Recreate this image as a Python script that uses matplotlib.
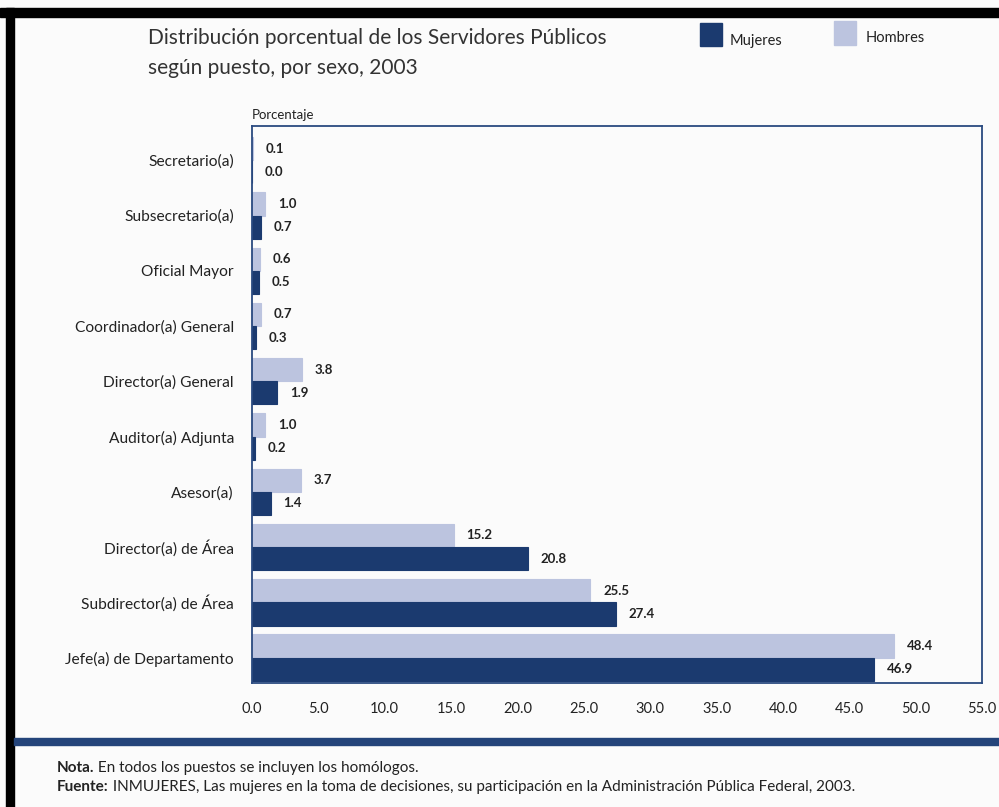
import matplotlib.pyplot as plt
import numpy as np
from matplotlib.patches import Rectangle

categories = ["Secretario(a)", "Subsecretario(a)", "Oficial Mayor", "Coordinador(a) General",
              "Director(a) General", "Auditor(a) Adjunta", "Asesor(a)", "Director(a) de Área",
              "Subdirector(a) de Área", "Jefe(a) de Departamento"]
hombres = [0.1, 1.0, 0.6, 0.7, 3.8, 1.0, 3.7, 15.2, 25.5, 48.4]
mujeres = [0.0, 0.7, 0.5, 0.3, 1.9, 0.2, 1.4, 20.8, 27.4, 46.9]
xticks = [0, 5, 10, 15, 20, 25, 30, 35, 40, 45, 50, 55]

navy = "#1b3a6f"
lav = "#bcc4df"
txt = "#222222"
plt.rcParams['font.family'] = ['Lato', 'DejaVu Sans']

fig = plt.figure(figsize=(9.99, 8.07), dpi=100, facecolor="#fbfbfb")
ax = fig.add_axes([252/999, 1-683/807, (982-252)/999, (683-126)/807])
ax.set_facecolor("#fbfbfb")

y = np.arange(len(categories))
h = 0.42
ax.barh(y - h/2, hombres, height=h, color=lav, edgecolor=lav, linewidth=0.8)
ax.barh(y + h/2, mujeres, height=h, color=navy, edgecolor=navy, linewidth=0.8)

for i in range(len(categories)):
    ax.text(hombres[i] + 0.95, y[i] - h/2, "%.1f" % hombres[i], va="center", ha="left",
            fontsize=9.5, fontweight="bold", color=txt)
    ax.text(mujeres[i] + 0.95, y[i] + h/2, "%.1f" % mujeres[i], va="center", ha="left",
            fontsize=9.5, fontweight="bold", color=txt)

ax.set_xlim(0, 55)
ax.set_ylim(9.46, -0.62)
ax.set_yticks(y)
ax.set_yticklabels(categories, fontsize=11.2, color=txt)
ax.set_xticks(xticks)
ax.set_xticklabels(["%.1f" % v for v in xticks], fontsize=10.5, color=txt)
ax.tick_params(length=0)
ax.tick_params(axis="y", pad=13)
ax.tick_params(axis="x", pad=14)
for s in ax.spines.values():
    s.set_color("#2a4a80")
    s.set_linewidth(1.3)

fig.text(252/999, 1-115/807, "Porcentaje", fontsize=9.5, color=txt, va="center")

fig.text(148/999, 1-38/807, "Distribución porcentual de los Servidores Públicos", fontsize=15,
         color="#333333", va="center")
fig.text(148/999, 1-68/807, "según puesto, por sexo, 2003", fontsize=15, color="#333333", va="center")

# leyenda
fig.patches.append(Rectangle((700/999, 1-46/807), 22/999, 23/807, transform=fig.transFigure,
                             color=navy, figure=fig))
fig.text(730/999, 1-41/807, "Mujeres", fontsize=10.5, color=txt, va="center")
fig.patches.append(Rectangle((834/999, 1-45/807), 22/999, 24/807, transform=fig.transFigure,
                             color=lav, figure=fig))
fig.text(866/999, 1-38/807, "Hombres", fontsize=10.5, color=txt, va="center")

# marco negro y linea azul
fig.patches.append(Rectangle((0, 1-17/807), 1, 9/807, transform=fig.transFigure, color="black", figure=fig))
fig.patches.append(Rectangle((6/999, 0), 8/999, 1-8/807, transform=fig.transFigure, color="black", figure=fig))
fig.patches.append(Rectangle((14/999, 1-745/807), 1, 7/807, transform=fig.transFigure, color="#24447a", figure=fig))

t1 = fig.text(57/999, 1-768/807, "Nota.", fontsize=11, fontweight="bold", color=txt, va="center")
ax.annotate(" En todos los puestos se incluyen los homólogos.", xy=(1, 0.5), xycoords=t1,
            va="center", ha="left", fontsize=11, color=txt, annotation_clip=False)
t2 = fig.text(57/999, 1-787/807, "Fuente:", fontsize=11, fontweight="bold", color=txt, va="center")
ax.annotate(" INMUJERES, Las mujeres en la toma de decisiones, su participación en la Administración Pública Federal, 2003.",
            xy=(1, 0.5), xycoords=t2, va="center", ha="left", fontsize=11, color=txt,
            annotation_clip=False)

fig.savefig("out.png", dpi=100, facecolor=fig.get_facecolor())
